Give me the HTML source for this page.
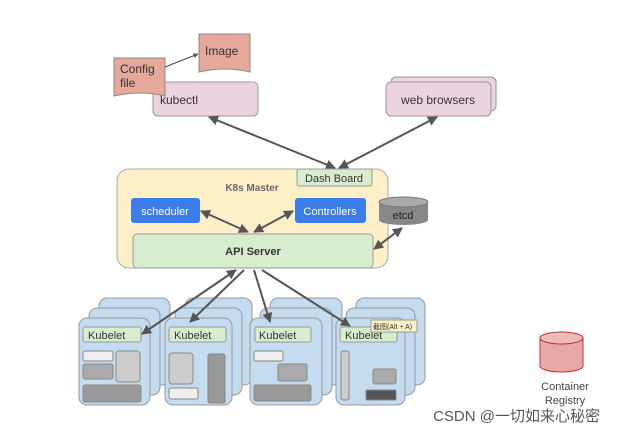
<!DOCTYPE html>
<html><head><meta charset="utf-8"><style>body{margin:0;background:#fff}svg{display:block}text{font-family:"Liberation Sans",sans-serif}</style></head><body>
<svg width="619" height="437" viewBox="0 0 619 437" xmlns="http://www.w3.org/2000/svg">
<defs><marker id="a" viewBox="0 0 10 10" refX="9" refY="5" markerWidth="5" markerHeight="5" orient="auto-start-reverse"><path d="M0,0L10,5L0,10z" fill="#555"/></marker></defs>
<!-- top -->
<path d="M199,34H250V72Q225,66 199,72Z" fill="#e6a89a" stroke="#888"/>
<text x="205" y="55" font-size="12" fill="#333">Image</text>
<rect x="153" y="82" width="105" height="34" rx="5" fill="#ecd3e0" stroke="#999"/>
<text x="160" y="104" font-size="12" fill="#333">kubectl</text>
<path d="M114,58H165V96Q140,90 114,96Z" fill="#e6a89a" stroke="#888"/>
<text x="120" y="73" font-size="12" fill="#333">Config</text><text x="120" y="87" font-size="12" fill="#333">file</text>
<line x1="165" y1="67" x2="198" y2="54" stroke="#444" marker-end="url(#a)"/>
<rect x="391" y="77" width="105" height="34" rx="5" fill="#ecd3e0" stroke="#999"/>
<rect x="386" y="82" width="105" height="34" rx="5" fill="#ecd3e0" stroke="#999"/>
<text x="438" y="104" font-size="12" fill="#333" text-anchor="middle">web browsers</text>
<line x1="209" y1="117" x2="335" y2="168" stroke="#555" stroke-width="2" marker-start="url(#a)" marker-end="url(#a)"/>
<line x1="437" y1="117" x2="339" y2="168" stroke="#555" stroke-width="2" marker-start="url(#a)" marker-end="url(#a)"/>
<!-- master -->
<rect x="117" y="169" width="271" height="99" rx="12" fill="#fdf0c8" stroke="#aaa"/>
<rect x="297" y="169" width="75" height="17" rx="2" fill="#d8ecd0" stroke="#999"/>
<text x="334" y="182" font-size="11" fill="#333" text-anchor="middle">Dash Board</text>
<text x="252" y="191" font-size="10" font-weight="bold" fill="#666" text-anchor="middle">K8s Master</text>
<rect x="131" y="198" width="69" height="25" rx="3" fill="#3b7de9"/>
<text x="165" y="215" font-size="11" fill="#fff" text-anchor="middle">scheduler</text>
<rect x="295" y="198" width="71" height="25" rx="3" fill="#3b7de9"/>
<text x="330" y="215" font-size="11" fill="#fff" text-anchor="middle">Controllers</text>
<rect x="133" y="234" width="240" height="34" rx="4" fill="#d8ecd0" stroke="#999"/>
<text x="253" y="255" font-size="11" font-weight="bold" fill="#333" text-anchor="middle">API Server</text>
<line x1="201" y1="211" x2="248" y2="232" stroke="#555" stroke-width="2" marker-start="url(#a)" marker-end="url(#a)"/>
<line x1="293" y1="211" x2="254" y2="232" stroke="#555" stroke-width="2" marker-start="url(#a)" marker-end="url(#a)"/>
<path d="M379,202V220A24.5,5 0 0 0 428,220V202Z" fill="#888"/>
<ellipse cx="403.5" cy="202" rx="24.5" ry="5" fill="#aaa" stroke="#777"/>
<text x="403" y="219" font-size="11" fill="#222" text-anchor="middle">etcd</text>
<line x1="374" y1="249" x2="402" y2="228" stroke="#555" stroke-width="2" marker-start="url(#a)" marker-end="url(#a)"/>
<!-- nodes -->
<g fill="#c5dcf0" stroke="#999">
<rect x="99" y="298" width="71" height="87" rx="8"/><rect x="89" y="308" width="71" height="87" rx="8"/><rect x="79" y="318" width="71" height="87" rx="8"/>
<rect x="185" y="298" width="67" height="87" rx="8"/><rect x="175" y="308" width="67" height="87" rx="8"/><rect x="165" y="318" width="67" height="87" rx="8"/>
<rect x="270" y="298" width="72" height="87" rx="8"/><rect x="260" y="308" width="72" height="87" rx="8"/><rect x="250" y="318" width="72" height="87" rx="8"/>
<rect x="356" y="298" width="69" height="87" rx="8"/><rect x="346" y="308" width="69" height="87" rx="8"/><rect x="336" y="318" width="69" height="87" rx="8"/>
</g>
<g fill="#d8ecd0" stroke="#999">
<rect x="83" y="327" width="58" height="15" rx="2"/><rect x="169" y="327" width="57" height="15" rx="2"/><rect x="255" y="327" width="56" height="15" rx="2"/><rect x="340" y="327" width="57" height="15" rx="2"/>
</g>
<g font-size="11" fill="#333"><text x="88" y="339">Kubelet</text><text x="174" y="339">Kubelet</text><text x="259" y="339">Kubelet</text><text x="345" y="339">Kubelet</text></g>
<g stroke="#888">
<rect x="83" y="351" width="30" height="10" rx="2" fill="#eee"/><rect x="83" y="364" width="30" height="15" rx="2" fill="#aaa"/><rect x="116" y="351" width="24" height="31" rx="3" fill="#ccc"/><rect x="83" y="385" width="58" height="17" rx="2" fill="#999"/>
<rect x="169" y="353" width="24" height="31" rx="3" fill="#ccc"/><rect x="169" y="388" width="29" height="11" rx="2" fill="#eee"/><rect x="208" y="354" width="17" height="49" rx="2" fill="#999"/>
<rect x="254" y="351" width="29" height="10" rx="2" fill="#eee"/><rect x="278" y="364" width="29" height="17" rx="2" fill="#aaa"/><rect x="254" y="385" width="57" height="16" rx="2" fill="#999"/>
<rect x="341" y="351" width="8" height="49" rx="2" fill="#ccc"/><rect x="373" y="369" width="23" height="15" rx="2" fill="#aaa"/><rect x="366" y="390" width="30" height="10" rx="1" fill="#555"/>
</g>
<rect x="371" y="320" width="46" height="12" fill="#fbf3c8" stroke="#999"/>
<text x="373" y="329" font-size="7" fill="#333">截图(Alt + A)</text>
<g stroke="#555" stroke-width="2" marker-end="url(#a)">
<line x1="236" y1="270" x2="142" y2="334" marker-start="url(#a)"/>
<line x1="244" y1="270" x2="190" y2="322"/>
<line x1="254" y1="270" x2="270" y2="322"/>
<line x1="262" y1="270" x2="350" y2="326"/>
</g>
<!-- registry -->
<path d="M540,338V366A21.5,6 0 0 0 583,366V338Z" fill="#e9a8a8" stroke="#b33"/>
<ellipse cx="561.5" cy="338" rx="21.5" ry="6" fill="#f0b8b8" stroke="#b33"/>
<text x="565" y="390" font-size="11" fill="#444" text-anchor="middle">Container</text>
<text x="565" y="404" font-size="11" fill="#444" text-anchor="middle">Registry</text>
<text x="600" y="421" font-size="15" fill="#555" text-anchor="end" style="font-family:'Liberation Sans','Noto Sans CJK SC',sans-serif">CSDN @一切如来心秘密</text>
</svg>
</body></html>
